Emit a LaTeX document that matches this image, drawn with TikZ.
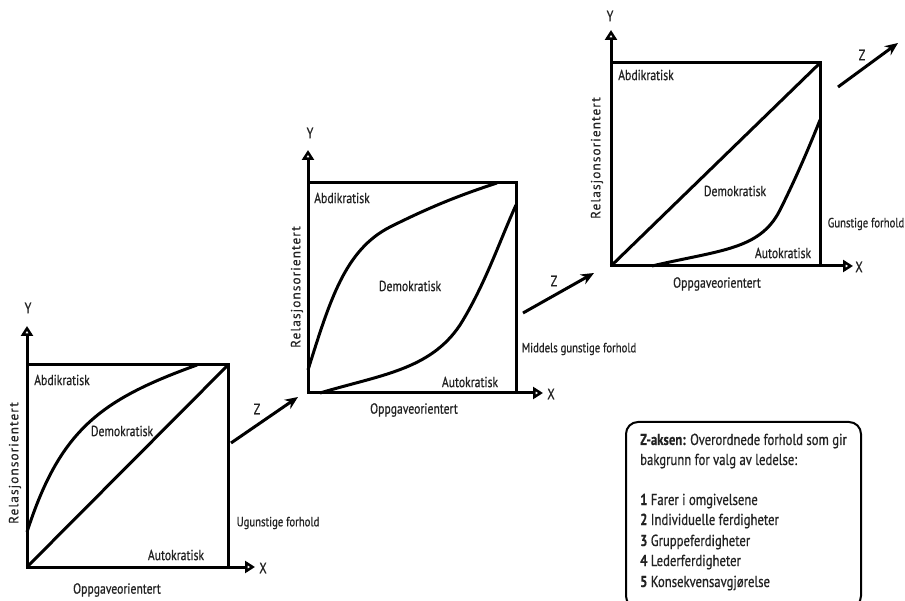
\documentclass[tikz,border=0pt]{standalone}
\usepackage{fontspec}
\setmainfont[FakeStretch=0.8,FakeBold=0.7,BoldFeatures={FakeBold=0.3}]{PT Sans}
\newfontfamily\relfont[LetterSpace=8,FakeBold=0.4]{PT Sans}
\usetikzlibrary{arrows.meta}
\definecolor{txt}{HTML}{222222}
\tikzset{
 frame/.style={line width=3pt, line join=miter},
 curve/.style={line width=3pt},
 axis/.style={line width=3pt, -{Triangle[open,length=10pt,width=12pt,line width=2.8pt]}},
 zarrow/.style={line width=3pt, -{Stealth[length=13pt,width=11pt]}},
 lbl/.style={text=txt, font=\fontsize{14.6}{17}\selectfont, inner sep=0pt},
 small/.style={text=txt, font=\fontsize{13.4}{15}\selectfont, inner sep=0pt},
 rel/.style={text=txt, font=\relfont\fontsize{13.3}{16}\selectfont, rotate=90, inner sep=0pt},
 axl/.style={text=txt, font=\fontsize{15}{17}\selectfont, inner sep=0pt},
 boxl/.style={text=txt, font=\fontsize{15.9}{18}\selectfont, inner sep=0pt, anchor=base west},
}
\begin{document}
\begin{tikzpicture}[x=1pt,y=-1pt]
\useasboundingbox (0,0) rectangle (905,601);
% ---------- Diagram 1 ----------
\coordinate (Abl) at (27,567); \coordinate (Atl) at (27,365);
\coordinate (Atr) at (228,365); \coordinate (Abr) at (228,567);
\coordinate (Ayt) at (27,326); \coordinate (Axt) at (255,567);
\coordinate (Acs) at (27,532); \coordinate (Ace) at (197,365);
\draw[frame] (Abl) rectangle (Atr);
\draw[axis] (Atl) -- (Ayt);
\draw[axis] (Abr) -- (Axt);
\draw[curve] (Abl) -- (Atr);
\draw[curve] (Acs) .. controls (60,430) and (100,400) .. (Ace);
\node[axl] (AY) at (28,308) {Y};
\node[axl] (AX) at (263,568) {X};
\node[lbl] (Aab) at (62,380) {Abdikratisk};
\node[lbl] (Ade) at (122,431) {Demokratisk};
\node[lbl] (Aau) at (176,555) {Autokratisk};
\node[lbl] (Aop) at (117,590) {Oppgaveorientert};
\node[rel] (Are) at (15,463) {Relasjonsorientert};
\node[small] (Aug) at (278,523) {Ugunstige forhold};
\coordinate (Z1s) at (231,443); \coordinate (Z1e) at (298,397);
\draw[zarrow] (Z1s) -- (Z1e);
\node[axl] (Z1) at (257,409) {Z};
% ---------- Diagram 2 ----------
\coordinate (Bbl) at (308,393); \coordinate (Btl) at (308,183);
\coordinate (Btr) at (516,183); \coordinate (Bbr) at (516,393);
\coordinate (Byt) at (308,150); \coordinate (Bxt) at (543,393);
\draw[frame] (Bbl) rectangle (Btr);
\draw[axis] (Btl) -- (Byt);
\draw[axis] (Bbr) -- (Bxt);
\coordinate (Bu1) at (308,370); \coordinate (Bu2) at (390,227); \coordinate (Bu3) at (497,183);
\draw[curve] (Bu1) .. controls (330,300) and (345,250) .. (Bu2) .. controls (430,207) and (460,195) .. (Bu3);
\coordinate (Bl1) at (320,393); \coordinate (Bl2) at (460,325); \coordinate (Bl3) at (516,205);
\draw[curve] (Bl1) .. controls (380,375) and (430,370) .. (Bl2) .. controls (485,285) and (500,240) .. (Bl3);
\node[axl] (BY) at (310,133) {Y};
\node[axl] (BX) at (551,394) {X};
\node[lbl] (Bab) at (342,198) {Abdikratisk};
\node[lbl] (Bde) at (410,286) {Demokratisk};
\node[lbl] (Bau) at (470,382) {Autokratisk};
\node[lbl] (Bop) at (414,410) {Oppgaveorientert};
\node[rel] (Bre) at (297,287) {Relasjonsorientert};
\node[small] (Bmg) at (579,349) {Middels gunstige forhold};
\coordinate (Z2s) at (523,313); \coordinate (Z2e) at (594,273);
\draw[zarrow] (Z2s) -- (Z2e);
\node[axl] (Z2) at (554,281) {Z};
% ---------- Diagram 3 ----------
\coordinate (Cbl) at (611,266); \coordinate (Ctl) at (611,63);
\coordinate (Ctr) at (820,63); \coordinate (Cbr) at (820,266);
\coordinate (Cyt) at (611,30); \coordinate (Cxt) at (853,266);
\draw[frame] (Cbl) rectangle (Ctr);
\draw[axis] (Ctl) -- (Cyt);
\draw[axis] (Cbr) -- (Cxt);
\draw[curve] (Cbl) -- (Ctr);
\coordinate (Cl1) at (652,266); \coordinate (Cl2) at (780,210); \coordinate (Cl3) at (820,120);
\draw[curve] (Cl1) .. controls (720,250) and (760,250) .. (Cl2) .. controls (795,180) and (808,150) .. (Cl3);
\node[axl] (CY) at (610,16) {Y};
\node[axl] (CX) at (859,267) {X};
\node[lbl] (Cab) at (646,75) {Abdikratisk};
\node[lbl] (Cde) at (735,191) {Demokratisk};
\node[lbl] (Cau) at (783,253) {Autokratisk};
\node[lbl] (Cop) at (717,284) {Oppgaveorientert};
\node[rel] (Cre) at (597,158) {Relasjonsorientert};
\node[small] (Cgf) at (866,224) {Gunstige forhold};
\coordinate (Z3s) at (838,87); \coordinate (Z3e) at (898,43);
\draw[zarrow] (Z3s) -- (Z3e);
\node[axl] (Z3) at (862,55) {Z};
% ---------- Legend box ----------
\draw[line width=2pt, rounded corners=12pt] (626,422) rectangle (861,608);
\node[boxl] (L1) at (640,445) {\textbf{Z-aksen:} Overordnede forhold som gir};
\node[boxl] (L2) at (640,465) {bakgrunn for valg av ledelse:};
\node[boxl] (L3) at (640,505) {\textbf{1} Farer i omgivelsene};
\node[boxl] (L4) at (640,525) {\textbf{2} Individuelle ferdigheter};
\node[boxl] (L5) at (640,546) {\textbf{3} Gruppeferdigheter};
\node[boxl] (L6) at (640,566) {\textbf{4} Lederferdigheter};
\node[boxl] (L7) at (640,587) {\textbf{5} Konsekvensavgjørelse};
\end{tikzpicture}
\end{document}
